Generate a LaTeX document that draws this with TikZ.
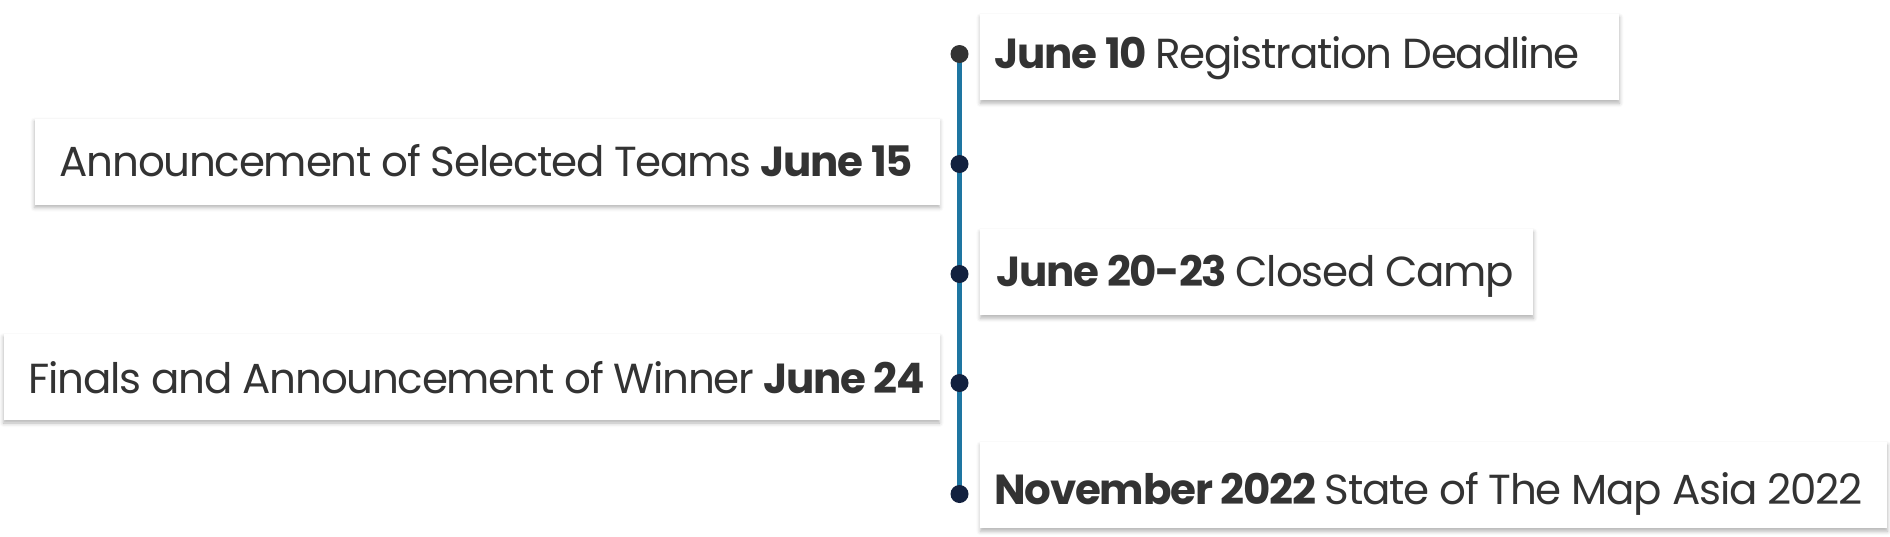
\documentclass[tikz,border=0pt]{standalone}
\usepackage{fontspec}
\setmainfont[LetterSpace=-3]{Poppins}
\usetikzlibrary{shadows.blur}
\definecolor{linecol}{HTML}{1E76A2}
\definecolor{dotcol}{HTML}{13213F}
\definecolor{txtcol}{HTML}{333333}

\begin{document}
\begin{tikzpicture}[x=1pt,y=1pt,
  event/.style={fill=white,text=txtcol,minimum height=43pt,inner ysep=0pt,
    text height=14.7pt,text depth=0pt,
    font=\fontsize{21}{24}\selectfont,
    blur shadow={shadow xshift=0pt,shadow yshift=-1.5pt,shadow blur radius=2pt,shadow opacity=30}},
  right event/.style={event,anchor=west,inner xsep=7pt},
  left event/.style={event,anchor=east},
  dot/.style={circle,fill=dotcol,inner sep=0pt,minimum size=9pt}]

  \useasboundingbox (0,0) rectangle (945,-268);

  \coordinate (t1) at (479.75,-27);
  \coordinate (t2) at (479.75,-82);
  \coordinate (t3) at (479.75,-137);
  \coordinate (t4) at (479.75,-191.5);
  \coordinate (t5) at (479.75,-247);

  \node[right event,text depth=3pt] (e1) at (490,-28.6) {\makebox[305.5pt][l]{\textbf{June 10} Registration Deadline}};
  \node[left event,inner xsep=14pt] (e2) at (470,-80.75) {\makebox[424.5pt][r]{Announcement of Selected Teams \textbf{June 15}}};
  \node[right event,inner xsep=8pt] (e3) at (490,-136.1) {\makebox[260.5pt][l]{\textbf{June 20-23} Closed Camp}};
  \node[left event,inner xsep=8pt,text height=16.7pt] (e4) at (470,-188.5) {\makebox[452pt][r]{Finals and Announcement of Winner \textbf{June 24}}};
  \node[right event,text height=19.2pt] (e5) at (490,-242.6) {\makebox[439.5pt][l]{\textbf{November 2022} State of The Map Asia 2022}};

  \draw[linecol,line width=2.5pt] (t1) -- (t5);

  \node[dot,fill=txtcol] (d1) at (t1) {};
  \node[dot] (d2) at (t2) {};
  \node[dot] (d3) at (t3) {};
  \node[dot] (d4) at (t4) {};
  \node[dot] (d5) at (t5) {};
\end{tikzpicture}
\end{document}
